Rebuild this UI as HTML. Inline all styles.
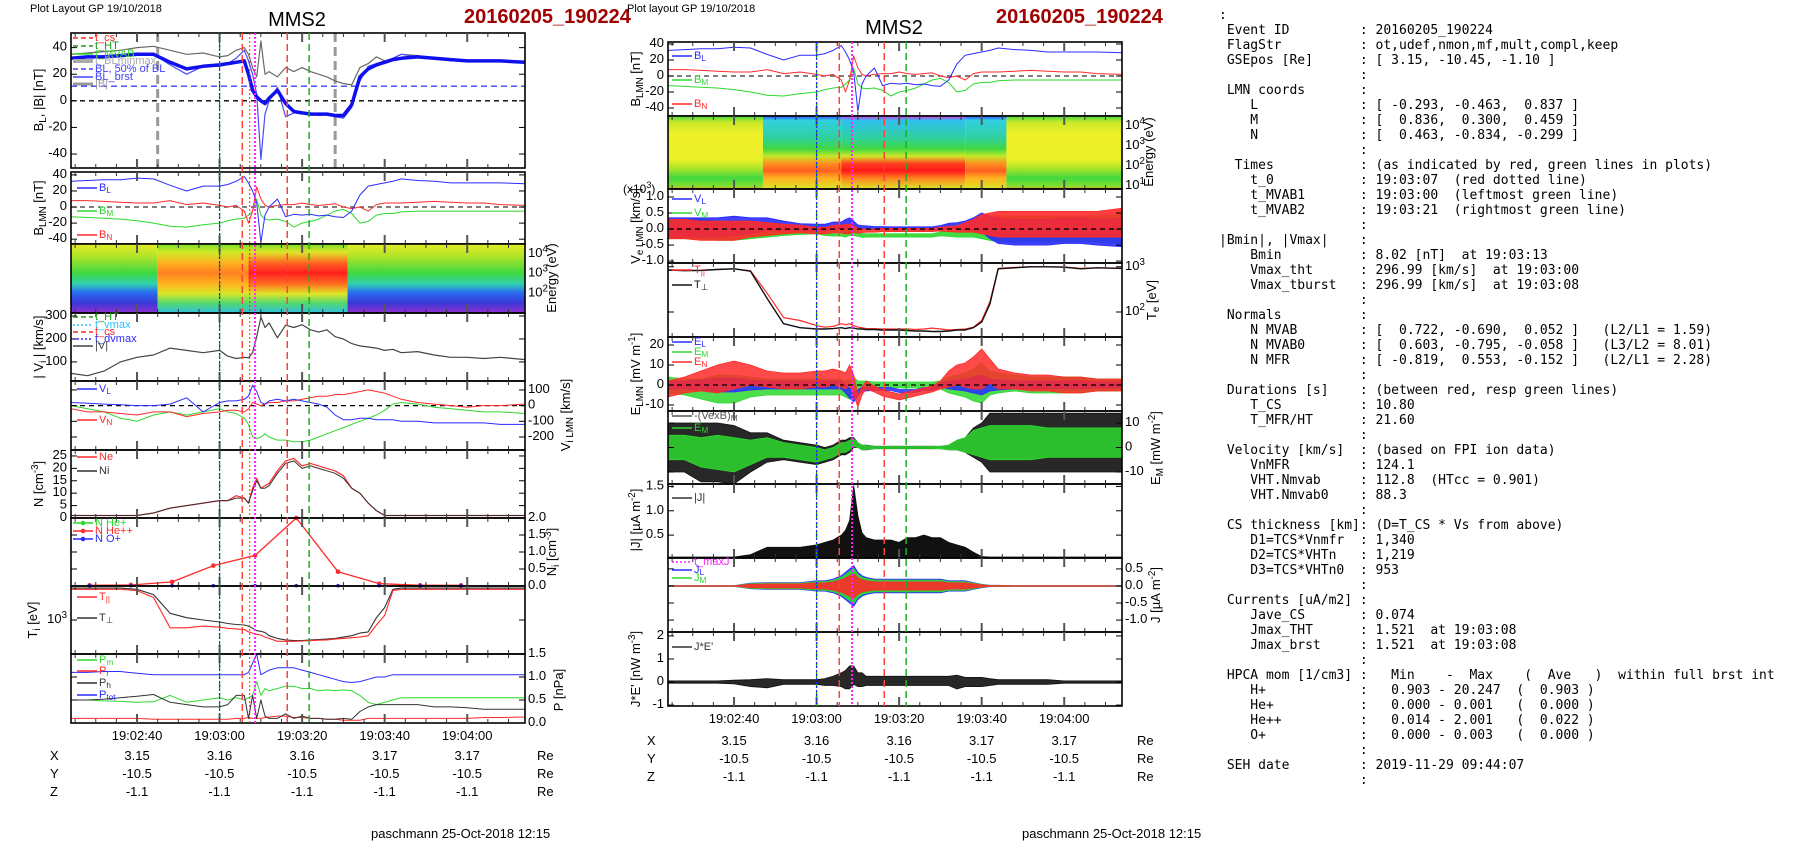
<!DOCTYPE html>
<html><head><meta charset="utf-8">
<style>
html,body{margin:0;padding:0;background:#fff;}
#wrap{position:relative;width:1804px;height:841px;overflow:hidden;background:#fff;}
svg{position:absolute;left:0;top:0;}
#info{position:absolute;left:1219px;top:8px;margin:0;font-family:"DejaVu Sans Mono","Liberation Mono",monospace;font-size:13px;line-height:15px;color:#000;white-space:pre;}
</style></head>
<body>
<div id="wrap">
<svg id="fig" width="1804" height="841" viewBox="0 0 1804 841" font-family="Liberation Sans, Arial, sans-serif"></svg>
<pre id="info"></pre>
</div>
<script>
// ---------- time base (seconds after 19:02:24) ----------
const tA=[0,4,8,12,16,20,24,28,32,36,38,40,42,43,44,45,46,47,48,50,52,54,56,58,60,62,64,66,68,70,72,74,76,78,80,84,88,92,96,100,104,110];
const tickLabels=["19:02:40","19:03:00","19:03:20","19:03:40","19:04:00"];
const tickTimes=[16,36,56,76,96];
const posX=["3.15","3.16","3.16","3.17","3.17"];
const posY=["-10.5","-10.5","-10.5","-10.5","-10.5"];
const posZ=["-1.1","-1.1","-1.1","-1.1","-1.1"];
// event markers (s)
const tGreen1=36, tGreen2=57.7, tRed1=41.5, tRed2=52.4, tRedDot=43.3, tMag=44.6, tGray1=21, tGray2=64;
// ---------- left column data ----------
const bLsmooth=[32,33,33,34,35,35,29,24,26,27,28,29,30,20,8,3,0,-2,2,8,-2,-8,-9,-10,-10,-10,-11,-11,-3,18,24,27,29,31,32,33,32,31,30,30,30,29];
const bMag=[35,36,37,38,40,41,38,35,36,33,34,38,40,35,25,18,45,20,22,18,25,22,25,22,20,18,15,13,12,25,28,33,30,32,35,34,32,31,30,30,30,29];
const bLbrst=[32,33,34,34,36,35,27,20,26,26,28,32,38,30,20,5,-44,-10,0,10,-12,-9,-10,-9,-11,-10,-12,-13,-5,15,26,28,30,32,35,33,32,30,30,30,30,29];
const bM=[-12,-13,-14,-15,-17,-20,-24,-25,-22,-20,-17,-15,-14,-10,-5,10,-10,-15,-16,-15,-18,-25,-20,-18,-15,-10,-5,-3,-8,-20,-18,-10,-8,-8,-6,-5,-5,-5,-5,-5,-5,-5];
const bN=[8,8,7,6,5,5,8,3,5,2,0,2,-5,-20,-5,25,10,2,0,2,3,3,5,3,2,3,4,0,-2,0,-5,3,5,5,5,6,7,6,5,5,3,2];
const viMag=[50,40,60,100,120,130,160,150,140,150,125,115,120,118,140,210,295,250,270,205,260,250,262,240,230,240,210,200,180,170,165,160,150,155,140,145,130,120,120,115,120,110];
const viL=[20,15,10,5,0,0,10,50,-40,20,30,30,40,60,130,90,20,10,30,40,30,40,30,20,10,-10,-60,-90,-90,-80,-80,-90,-90,-90,-100,-100,-110,-110,-110,-110,-120,-120];
const viM=[0,-20,-40,-80,-100,-60,-40,-60,-40,-20,-40,-50,-80,-120,-200,-210,-200,-180,-200,-220,-220,-230,-230,-220,-200,-180,-160,-140,-120,-100,-80,-60,-30,10,20,10,-10,-20,-30,-40,-40,-50];
const viN=[-20,-40,-40,-50,-60,-40,-40,-70,-50,-40,-30,-30,-40,-20,20,10,0,10,20,20,30,30,40,50,60,60,70,70,80,90,100,90,80,60,40,20,10,0,-10,0,0,10];
const nE=[1,1,1,1,1,2,4,5,6,7,7,9,8,6,12,16,12,13,14,19,23,24,21,22,21,20,19,17,12,10,6,3,1,1,1,1,1,1,1,1,1,1];
const nI=[1,1,1,1,1,2,4,5,6,7,7,8,8,6,11,15,12,12,13,18,22,23,20,21,20,19,18,16,12,10,6,3,1,1,1,1,1,1,1,1,1,1];
const hT=[4.5,14.5,24.5,34.5,44.6,54.6,64.7,74.7,84.6,94.5];
const heNN=[0.02,0.03,0.12,0.6,0.9,2.0,0.42,0.07,0.02,0.02];
const oNN=[0.01,0.01,0.01,0.01,0.01,0.01,0.01,0.01,0.01,0.01];
const tiPerp=[1950,1950,1950,1950,1900,1700,1150,1050,1000,960,930,910,900,880,840,800,790,770,720,680,660,650,650,660,665,670,680,700,720,760,780,1050,1300,1900,1950,1950,1950,1950,1950,1950,1950,1950];
const tiPar=[1900,1900,1900,1900,1850,1600,850,850,880,860,840,830,820,780,760,740,730,700,680,640,640,640,645,650,655,660,670,680,690,700,720,900,1100,1850,1900,1900,1900,1900,1900,1900,1900,1900];
const pTot=[1.1,1.1,1.12,1.12,1.08,1.05,1.05,1.05,1.05,1.05,1.05,1.05,1.05,1.1,1.3,1.5,1.05,1.1,1.15,1.2,1.2,1.2,1.15,1.1,1.05,1.0,0.95,0.9,0.88,0.9,0.95,1.0,1.0,1.05,1.05,1.05,1.05,1.05,1.05,1.05,1.05,1.05];
const pMag=[0.5,0.5,0.48,0.47,0.45,0.46,0.6,0.45,0.5,0.55,0.5,0.55,0.5,0.55,0.6,0.9,0.6,0.75,0.7,0.75,0.8,0.8,0.75,0.75,0.7,0.72,0.7,0.72,0.7,0.6,0.45,0.4,0.45,0.5,0.55,0.55,0.55,0.55,0.55,0.55,0.55,0.55];
const pTh=[0.5,0.5,0.52,0.55,0.58,0.62,0.45,0.4,0.35,0.35,0.4,0.6,0.6,0.1,0.6,0.1,0.5,0.15,0.1,0.1,0.2,0.1,0.15,0.1,0.1,0.08,0.08,0.1,0.08,0.25,0.35,0.4,0.4,0.4,0.4,0.4,0.35,0.35,0.33,0.3,0.3,0.3];
const pRam=[0.1,0.1,0.1,0.1,0.1,0.08,0.08,0.08,0.08,0.08,0.08,0.1,0.1,0.12,0.1,0.1,0.1,0.12,0.13,0.15,0.15,0.12,0.12,0.1,0.1,0.08,0.08,0.06,0.06,0.06,0.1,0.1,0.1,0.1,0.1,0.1,0.1,0.1,0.1,0.12,0.12,0.13];
// ---------- middle column data ----------
const veAmp=[0.3,0.3,0.3,0.3,0.3,0.25,0.2,0.15,0.12,0.1,0.1,0.12,0.12,0.15,0.15,0.1,0.08,0.06,0.05,0.05,0.05,0.05,0.05,0.05,0.05,0.05,0.05,0.06,0.08,0.1,0.15,0.2,0.3,0.35,0.4,0.4,0.4,0.4,0.4,0.4,0.4,0.45];
const veL=[0.05,0.05,0.05,0.05,0.1,0.1,0.15,0.1,0.05,0.05,0.05,0.1,0.1,0.15,0.2,0.15,0.05,0.05,0.05,0.03,0.03,0.02,0.02,0.02,0.02,0.02,0.02,0.05,0.1,0.1,0.1,0.15,0.2,0.05,-0.05,-0.1,-0.1,-0.1,-0.05,-0.05,-0.1,-0.1];
const veM=[0,0,0,-0.05,-0.05,-0.05,-0.05,-0.05,-0.05,-0.05,-0.1,-0.1,-0.1,-0.1,-0.05,-0.1,-0.15,-0.2,-0.2,-0.2,-0.2,-0.2,-0.2,-0.2,-0.2,-0.2,-0.2,-0.15,-0.15,-0.15,-0.1,-0.05,0,0,0,0,0,0,0,0,0,0];
const veN=[0,0,-0.05,-0.05,-0.05,0,0,0,0,-0.05,-0.05,0,0,0,0,0,-0.05,-0.05,-0.05,-0.05,-0.03,-0.03,-0.03,-0.03,-0.03,-0.03,-0.03,0,0,0,0.05,0.1,0.15,0.15,0.15,0.15,0.15,0.15,0.15,0.15,0.15,0.2];
const teN=[850,820,830,870,900,800,200,55,45,42,42,43,45,43,45,44,42,42,41,41,40,40,40,39,38,38,37,37,38,40,40,45,60,150,900,950,1000,1000,980,900,950,920];
const tePar=[850,830,840,880,900,820,260,75,65,50,46,48,55,52,55,50,46,45,43,43,42,42,42,42,41,42,44,42,40,41,42,46,65,170,920,970,1010,1000,990,920,950,930];
const eN=[-2,0,2,3,5,5,3,2,2,3,3,4,3,2,5,0,-8,-3,0,-2,-4,-5,-6,-5,-4,-3,-2,0,3,5,5,6,8,7,3,2,1,1,0,0,0,0];
const eAmp=[4,4,5,7,7,5,4,4,4,4,4,4,4,4,5,5,3,2,2,1.5,1.5,1.5,1.5,1.5,1.5,1.5,1.5,2,4,5,6,8,10,6,5,4,4,4,4,4,3,3];
const eLc=[0,0,0,0,0,0,0,0,0,0,0,0,0,-2,-4,-6,-4,-2,-2,-2,-2,-2,-3,-3,-3,-2,-2,0,0,0,0,0,0,0,0,0,0,0,0,0,0,0];
const eMc=[0,-1,-2,-2,-2,-1,-1,-1,-1,-1,-1,-1,-1,-2,-2,-1,-1,0,0,0,0,0,0,0,0,0,0,0,0,0,0,0,1,1,1,1,0,0,0,0,0,0];
const vxbC=[0,0,-2,-2,-3,-2,0,-1,-2,-3,-3,-2,0,0,1,2,1,0,0,0,0,0,0,0,0,0,0,0,0,1,1,2,2,2,2,2,2,2,2,2,2,2];
const vxbAmp=[10,10,12,12,12,8,6,4,4,4,3,3,3,3,3,2,1,1,1,0.5,0.5,0.5,0.5,0.5,0.5,0.5,0.5,0.5,1,2,3,6,8,12,12,12,12,12,12,12,12,12];
const emAmp=[5,5,6,7,7,5,4,3,3,3,2,2,2,2,2,1.5,1,1,0.8,0.4,0.4,0.4,0.4,0.4,0.4,0.4,0.4,0.5,1,2,3,5,6,7,7,7,7,6,6,6,6,6];
const jMag=[0.05,0.05,0.05,0.05,0.05,0.1,0.25,0.25,0.25,0.3,0.35,0.4,0.5,0.6,0.8,1.52,0.9,0.55,0.45,0.4,0.4,0.4,0.35,0.45,0.45,0.5,0.45,0.45,0.35,0.3,0.25,0.15,0.06,0.05,0.05,0.05,0.05,0.05,0.05,0.05,0.05,0.05];
const jAmp=[0.01,0.01,0.01,0.01,0.01,0.08,0.1,0.1,0.1,0.15,0.15,0.2,0.3,0.4,0.5,0.6,0.4,0.3,0.25,0.2,0.2,0.2,0.2,0.2,0.2,0.2,0.2,0.2,0.15,0.15,0.15,0.1,0.05,0.02,0.02,0.01,0.01,0.01,0.01,0.01,0.01,0.01];
const jeAmp=[0.05,0.05,0.05,0.05,0.08,0.15,0.2,0.1,0.1,0.1,0.15,0.2,0.3,0.4,0.5,0.4,0.3,0.3,0.2,0.2,0.2,0.2,0.2,0.2,0.2,0.2,0.2,0.2,0.2,0.3,0.2,0.2,0.2,0.15,0.1,0.1,0.1,0.1,0.05,0.05,0.05,0.05];
const jeC=[0,0,0,0,0,-0.05,-0.05,0,0,0,0,0.05,0.1,0.1,0.2,0.3,0.1,0.1,0.05,0.05,0.05,0.05,0.05,0.05,0.05,0.05,0.05,0.05,0.05,0,0,0,0,0,0,0,0,0,0,0,0,0];

// ---------- drawing helpers ----------
const NS='http://www.w3.org/2000/svg';
const svg=document.getElementById('fig');
const defs=document.createElementNS(NS,'defs');
svg.appendChild(defs);
const W=454, SPAN=110;
const BLUE='#2b2bff', GREEN='#2ed82e', RED='#ff2a2a', GRAY='#808080';
function mk(tag,parent){const e=document.createElementNS(NS,tag);(parent||svg).appendChild(e);return e;}
function setA(e,o){for(const k in o)e.setAttribute(k,o[k]);return e;}
function panel(x0,top,bot,vmin,vmax,log){
  const p={x0,top,bot,vmin,vmax,log};
  p.x=t=>x0+t*W/SPAN;
  p.y=v=>{let a=log?Math.log10(v):v,lo=log?Math.log10(vmin):vmin,hi=log?Math.log10(vmax):vmax;let y=bot-(a-lo)/(hi-lo)*(bot-top);return Math.max(top,Math.min(bot,y));};
  return p;
}
function line(p,times,vals,color,w,dash,name){
  const e=mk('polyline');
  
  
  setA(e,{points:times.map((t,i)=>p.x(t).toFixed(1)+','+p.y(vals[i]).toFixed(1)).join(' '),fill:'none',stroke:color,'stroke-width':w,'stroke-linejoin':'round'});
  if(dash)e.setAttribute('stroke-dasharray',dash);
  return e;
}
function band(p,times,c,amp,color,op,name){
  const up=times.map((t,i)=>p.x(t).toFixed(1)+','+p.y(c[i]+amp[i]).toFixed(1));
  const dn=times.map((t,i)=>p.x(t).toFixed(1)+','+p.y(c[i]-amp[i]).toFixed(1)).reverse();
  const e=mk('polygon');
  
  
  setA(e,{points:up.concat(dn).join(' '),fill:color,'fill-opacity':op,stroke:color,'stroke-width':0.8});
  return e;
}
function bandLo(p,times,lo,hi,color,name){
  const up=times.map((t,i)=>p.x(t).toFixed(1)+','+p.y(hi[i]).toFixed(1));
  const dn=times.map((t,i)=>p.x(t).toFixed(1)+','+p.y(lo).toFixed(1)).reverse();
  const e=mk('polygon');
  
  
  setA(e,{points:up.concat(dn).join(' '),fill:color,stroke:color,'stroke-width':0.8});
}
function txt(x,y,parts,o){
  o=o||{};
  const e=mk('text');
  
  
  setA(e,{x:x,y:y,'font-size':o.size||13,fill:o.color||'#000','text-anchor':o.anchor||'start','dominant-baseline':'middle'});
  if(o.weight)e.setAttribute('font-weight',o.weight);
  if(o.rot)e.setAttribute('transform','rotate('+o.rot+' '+x+' '+y+')');
  if(typeof parts==='string')parts=[[parts]];
  parts.forEach(pt=>{const s=mk('tspan',e);s.textContent=pt[0];
    if(pt[1]==='sub'){s.setAttribute('baseline-shift','-30%');s.setAttribute('font-size',(o.size||13)*0.75);}
    if(pt[1]==='sup'){s.setAttribute('baseline-shift','45%');s.setAttribute('font-size',(o.size||13)*0.75);}});
  return e;
}
function frame(p,name){
  const r=mk('rect');
  
  
  setA(r,{x:p.x0,y:p.top,width:W,height:p.bot-p.top,fill:'none',stroke:'#000','stroke-width':1.6});
  for(let t=1;t<SPAN;t+=5){
    const major=tickTimes.indexOf(t)>=0;const L=major?9:4;
    const a=mk('line');
    setA(a,{x1:p.x(t),x2:p.x(t),y1:p.top,y2:p.top+L,stroke:major?'#555':'#333','stroke-width':major?2:1});
    const b=mk('line');
    setA(b,{x1:p.x(t),x2:p.x(t),y1:p.bot-L,y2:p.bot,stroke:major?'#555':'#333','stroke-width':major?2:1});
  }
}
function yticks(p,vals,labels,side){
  vals.forEach((v,i)=>{
    const y=p.y(v);
    const a=mk('line');
    setA(a,{x1:p.x0,x2:p.x0+6,y1:y,y2:y,stroke:'#000'});
    const b=mk('line');
    setA(b,{x1:p.x0+W-6,x2:p.x0+W,y1:y,y2:y,stroke:'#000'});
    if(labels&&labels[i]!=null){
      if(side==='r')txt(p.x0+W+3,y,labels[i],{name:'y-tick-label'});
      else txt(p.x0-4,y,labels[i],{anchor:'end',name:'y-tick-label'});
    }
  });
}
function vline(p,t,color,w,dash,name){
  const e=mk('line');
  
  
  setA(e,{x1:p.x(t),x2:p.x(t),y1:p.top,y2:p.bot,stroke:color,'stroke-width':w,'stroke-dasharray':dash});
}
function hline(p,v,color,dash,name){
  const e=mk('line');
  
  
  setA(e,{x1:p.x0,x2:p.x0+W,y1:p.y(v),y2:p.y(v),stroke:color,'stroke-width':1.3,'stroke-dasharray':dash});
}
function grad(id,stops){
  const g=mk('linearGradient',defs);setA(g,{id:id,x1:0,y1:0,x2:0,y2:1});
  stops.forEach(s=>{const st=mk('stop',g);setA(st,{offset:s[0],'stop-color':s[1]});});
}
function specRect(p,t0,t1,gid,name){
  const r=mk('rect');
  
  
  setA(r,{x:p.x(t0),y:p.top,width:p.x(t1)-p.x(t0),height:p.bot-p.top,fill:'url(#'+gid+')'});
}
function legend(x,y,color,dash,parts,name,w){
  const e=mk('line');
  
  
  setA(e,{x1:x,x2:x+20,y1:y,y2:y,stroke:color,'stroke-width':w||1.5});
  if(dash)e.setAttribute('stroke-dasharray',dash);
  txt(x+22,y,parts,{size:11,color:color,name:name});
}
function markers(p,top,bot,withRedDot){
  const pp={x0:p.x0,top:top,bot:bot,x:p.x,y:p.y};
  vline(pp,tGreen1,'#1a9e1a',1.3,'6,4','event-line-mvab1');
  vline(pp,tGreen1,'#2020ff',1.2,'2,2','event-line-dvmax');
  vline(pp,tRed1,'#ff4040',1.5,'7,4','event-line-cs-start');
  if(withRedDot)vline(pp,tRedDot,'#ff2020',1,'2,2','event-line-t0');
  vline(pp,tMag,'#ff20ff',2,'2,2','event-line-vmax');
  vline(pp,tRed2,'#ff4040',1.5,'7,4','event-line-cs-end');
  vline(pp,tGreen2,'#20b020',1.5,'7,4','event-line-mvab2');
}

// ---------- gradients ----------
grad('ionOut',[[0,'#e4ec28'],[0.18,'#b0e428'],[0.42,'#40d840'],[0.58,'#30d0b0'],[0.7,'#2a70f0'],[0.85,'#3838d8'],[1,'#9030d0']]);
grad('ionIn1',[[0,'#7ade28'],[0.12,'#d0e828'],[0.28,'#ffb020'],[0.42,'#ff8020'],[0.58,'#ffb420'],[0.72,'#d8e828'],[0.86,'#50d870'],[1,'#30c0e0']]);
grad('ionIn2',[[0,'#7ade28'],[0.12,'#e0e428'],[0.28,'#ff6020'],[0.42,'#ff2020'],[0.58,'#ff7020'],[0.72,'#e0e428'],[0.86,'#50d870'],[1,'#30c0e0']]);
grad('elOut',[[0,'#40d840'],[0.08,'#c8e828'],[0.25,'#f0f028'],[0.6,'#eaf028'],[0.72,'#a8e428'],[0.85,'#40d840'],[0.96,'#80e030'],[1,'#f0a020']]);
grad('elIn1',[[0,'#3050ff'],[0.06,'#30d0e0'],[0.3,'#30d0a0'],[0.45,'#40d840'],[0.55,'#c0e828'],[0.65,'#ff9020'],[0.75,'#ff6020'],[0.85,'#ffb020'],[1,'#d8e828']]);
grad('elIn2',[[0,'#e030e0'],[0.06,'#30c0f0'],[0.3,'#30d0a0'],[0.45,'#40d840'],[0.55,'#d0e828'],[0.65,'#ff4020'],[0.75,'#ff1818'],[0.85,'#ff8020'],[1,'#d8e828']]);

// ---------- titles ----------
txt(30,9,'Plot Layout GP 19/10/2018',{size:11,name:'layout-caption-left'});
txt(297,21,'MMS2',{size:20,anchor:'middle',name:'spacecraft-title-left'});
txt(464,18,'20160205_190224',{size:20,weight:'bold',color:'#a00000',name:'event-title-left'});
txt(627,9,'Plot layout GP 19/10/2018',{size:11,name:'layout-caption-mid'});
txt(894,29,'MMS2',{size:20,anchor:'middle',name:'spacecraft-title-mid'});
txt(996,18,'20160205_190224',{size:20,weight:'bold',color:'#a00000',name:'event-title-mid'});

// ================= LEFT COLUMN =================
const LX=71;
const L1=panel(LX,33,168,-50.5,51);
hline(L1,0,'#000','5,4','zero-line');
hline(L1,11,'#4040ff','6,4','bl-50pct-line');
vline(L1,tGray1,'#999',3,'9,5','blminmax-line-1');
vline(L1,tGray2,'#999',3,'9,5','blminmax-line-2');
line(L1,tA,bMag,'#6a6a6a',1.2,null,'b-magnitude-line');
line(L1,tA,bLbrst,'#4a4aff',1.2,null,'bl-burst-line');
line(L1,tA,bLsmooth,'#1010ee',3.5,null,'bl-smooth-line');
frame(L1,'bl-b-panel');
yticks(L1,[40,20,0,-20,-40],['40','20','0','-20','-40']);
txt(40,100,[['B'],['L','sub'],[', |B| [nT]']],{rot:-90,anchor:'middle',name:'y-axis-title-bl'});
legend(73,38,RED,'5,3','t_cs','legend-t-cs');
legend(73,46,'#1a9e1a','5,3','t_HT','legend-t-ht');
legend(73,54,GREEN,null,'t_MVAB','legend-t-mvab');
legend(73,61,'#aaa',null,'t_BLminmax','legend-t-blminmax',4);
legend(73,69,'#4040ff','5,3','BL, 50% of BL','legend-bl-50');
legend(73,77,'#4040ff',null,'BL_brst','legend-bl-brst');
legend(73,84,'#999',null,'|B|','legend-b-mag',3);

const L2=panel(LX,172,244,-46,43.6);
hline(L2,0,'#333','5,4','zero-line');
line(L2,tA,bM,GREEN,1,null,'bm-line');
line(L2,tA,bN,RED,1,null,'bn-line');
line(L2,tA,bLbrst,BLUE,1,null,'bl-line');
frame(L2,'b-lmn-panel');
yticks(L2,[40,20,0,-20,-40],['40','20','0','-20','-40']);
txt(40,208,[['B'],['LMN','sub'],[' [nT]']],{rot:-90,anchor:'middle',name:'y-axis-title-blmn'});
legend(77,188,BLUE,null,[['B'],['L','sub']],'legend-bl');
legend(77,211,GREEN,null,[['B'],['M','sub']],'legend-bm');
legend(77,235,RED,null,[['B'],['N','sub']],'legend-bn');

const L3=panel(LX,244,313,10,31623,true);
specRect(L3,0,21,'ionOut','ion-spectrogram-pre');
specRect(L3,21,43,'ionIn1','ion-spectrogram-cs1');
specRect(L3,43,67,'ionIn2','ion-spectrogram-cs2');
specRect(L3,67,110,'ionOut','ion-spectrogram-post');
frame(L3,'ion-spectrogram-panel');
[[10000,'4'],[1000,'3'],[100,'2']].forEach(a=>txt(L3.x0+W+3,L3.y(a[0]),[['10'],[a[1],'sup']],{name:'energy-tick-label'}));
txt(553,278,'Energy (eV)',{rot:-90,anchor:'middle',name:'y-axis-title-ion-energy'});

const L4=panel(LX,313,381,17,313);
line(L4,tA,viMag,'#444',1.2,null,'vi-magnitude-line');
frame(L4,'vi-magnitude-panel');
yticks(L4,[300,200,100],['300','200','100']);
txt(40,347,[['| V'],['i','sub'],[' | [km/s]']],{rot:-90,anchor:'middle',name:'y-axis-title-vi'});
legend(73,317,'#1a9e1a','5,3','t_HT','legend-vi-t-ht');
legend(73,325,'#30c0ff','2,2','t_vmax','legend-t-vmax');
legend(73,332,RED,'5,3','t_cs','legend-vi-t-cs');
legend(73,339,BLUE,'2,2','t_dvmax','legend-t-dvmax');
legend(73,346,'#444',null,'|V|','legend-vi-mag');

const L5=panel(LX,381,450,-283,157);
hline(L5,0,'#000','5,4','zero-line');
line(L5,tA,viM,GREEN,1,null,'vm-line');
line(L5,tA,viN,RED,1,null,'vn-line');
line(L5,tA,viL,BLUE,1,null,'vl-line');
frame(L5,'vi-lmn-panel');
yticks(L5,[100,0,-100,-200],['100','0','-100','-200'],'r');
txt(567,415,[['V'],['i LMN','sub'],[' [km/s]']],{rot:-90,anchor:'middle',name:'y-axis-title-vilmn'});
legend(77,389,BLUE,null,[['V'],['L','sub']],'legend-vl');
legend(77,420,RED,null,[['V'],['N','sub']],'legend-vn');

const L6=panel(LX,450,518,0,27.4);
line(L6,tA,nE,RED,1.2,null,'ne-line');
line(L6,tA,nI,'#333',1,null,'ni-line');
frame(L6,'density-panel');
yticks(L6,[25,20,15,10,5,0],['25','20','15','10','5','0']);
txt(40,484,[['N [cm'],['-3','sup'],[']']],{rot:-90,anchor:'middle',name:'y-axis-title-n'});
legend(77,457,RED,null,'Ne','legend-ne');
legend(77,471,'#333',null,'Ni','legend-ni');

const L7=panel(LX,518,586,0,2.0);
line(L7,hT,heNN,RED,1.3,null,'hepp-density-line');
hT.forEach((t,i)=>{const c=mk('circle');setA(c,{cx:L7.x(t),cy:L7.y(heNN[i]),r:2.3,fill:RED});});
hT.forEach((t,i)=>{const c=mk('circle');setA(c,{cx:L7.x(t),cy:L7.y(oNN[i]),r:1.8,fill:BLUE});});
frame(L7,'minor-ion-density-panel');
yticks(L7,[2,1.5,1,0.5,0],['2.0','1.5','1.0','0.5','0.0'],'r');
txt(553,552,[['N'],['i','sub'],[' [cm'],['-3','sup'],[']']],{rot:-90,anchor:'middle',name:'y-axis-title-ni'});
[[GREEN,'N  He+',523],[RED,'N  He++',531],[BLUE,'N  O+',539]].forEach(a=>{legend(73,a[2],a[0],null,a[1],'legend-minor-ion');const c=mk('circle');setA(c,{cx:83,cy:a[2],r:2.3,fill:a[0]});});

const L8=panel(LX,586,654,491,2037,true);
line(L8,tA,tiPerp,'#333',1.1,null,'ti-perp-line');
line(L8,tA,tiPar,RED,1.1,null,'ti-par-line');
frame(L8,'ti-panel');
yticks(L8,[1000],[[['10'],['3','sup']]]);
txt(34,620,[['T'],['i','sub'],[' [eV]']],{rot:-90,anchor:'middle',name:'y-axis-title-ti'});
legend(77,597,RED,null,[['T'],['||','sub']],'legend-ti-par');
legend(77,618,'#333',null,[['T'],['\u22a5','sub']],'legend-ti-perp');

const L9=panel(LX,654,723,0,1.5);
line(L9,tA,pRam,RED,1,null,'p-ram-line');
line(L9,tA,pMag,GREEN,1,null,'p-mag-line');
line(L9,tA,pTh,'#333',1,null,'p-th-line');
line(L9,tA,pTot,BLUE,1,null,'p-total-line');
frame(L9,'pressure-panel');
yticks(L9,[1.5,1,0.5,0],['1.5','1.0','0.5','0.0'],'r');
txt(560,690,'P [nPa]',{rot:-90,anchor:'middle',name:'y-axis-title-p'});
legend(77,660,GREEN,null,[['P'],['m','sub']],'legend-pm');
legend(77,671,RED,null,[['P'],['r','sub']],'legend-pr');
legend(77,683,'#333',null,[['P'],['h','sub']],'legend-ph');
legend(77,695,BLUE,null,[['P'],['tot','sub']],'legend-ptot');
markers(L1,33,723,true);

// ================= MIDDLE COLUMN =================
const MX=668;
const M1=panel(MX,42,116,-50,42.5);
hline(M1,0,'#333','5,4','zero-line');
line(M1,tA,bM,GREEN,1,null,'bm-line');
line(M1,tA,bN,RED,1,null,'bn-line');
line(M1,tA,bLbrst,BLUE,1,null,'bl-line');
frame(M1,'b-lmn-panel-mid');
yticks(M1,[40,20,0,-20,-40],['40','20','0','-20','-40']);
txt(637,79,[['B'],['LMN','sub'],[' [nT]']],{rot:-90,anchor:'middle',name:'y-axis-title-blmn-mid'});
legend(672,56,BLUE,null,[['B'],['L','sub']],'legend-bl');
legend(672,80,GREEN,null,[['B'],['M','sub']],'legend-bm');
legend(672,104,RED,null,[['B'],['N','sub']],'legend-bn');

const M2=panel(MX,116,189,7,31623,true);
specRect(M2,0,23,'elOut','electron-spectrogram-pre');
specRect(M2,23,42,'elIn1','electron-spectrogram-cs1');
specRect(M2,42,72,'elIn2','electron-spectrogram-cs2');
specRect(M2,72,82,'elIn1','electron-spectrogram-cs3');
specRect(M2,82,110,'elOut','electron-spectrogram-post');
frame(M2,'electron-spectrogram-panel');
[[10000,'4'],[1000,'3'],[100,'2'],[10,'1']].forEach(a=>txt(M2.x0+W+3,M2.y(a[0]),[['10'],[a[1],'sup']],{name:'energy-tick-label'}));
txt(1150,152,'Energy (eV)',{rot:-90,anchor:'middle',name:'y-axis-title-el-energy'});

const M3=panel(MX,189,263,-1.06,1.25);
band(M3,tA,veM,veAmp,GREEN,0.9,'ve-m-band');
band(M3,tA,veL,veAmp,BLUE,0.9,'ve-l-band');
band(M3,tA,veN,veAmp,RED,0.9,'ve-n-band');
hline(M3,0,'#000','5,4','zero-line');
frame(M3,'ve-lmn-panel');
yticks(M3,[1,0.5,0,-0.5,-1],['1.0','0.5','0.0','-0.5','-1.0']);
txt(637,226,[['V'],['e LMN','sub'],[' [km/s]']],{rot:-90,anchor:'middle',name:'y-axis-title-ve'});
txt(623,190,[['(x10'],['3','sup'],[')']],{size:12,name:'ve-scale-factor'});
legend(672,199,BLUE,null,[['V'],['L','sub']],'legend-vel');
legend(672,213,GREEN,null,[['V'],['M','sub']],'legend-vem');

const M4=panel(MX,263,337,28,1212,true);
line(M4,tA,tePar,RED,1.2,null,'te-par-line');
line(M4,tA,teN,'#111',1.4,null,'te-perp-line');
frame(M4,'te-panel');
yticks(M4,[1000,100],[[['10'],['3','sup']],[['10'],['2','sup']]],'r');
txt(1153,300,[['T'],['e','sub'],[' [eV]']],{rot:-90,anchor:'middle',name:'y-axis-title-te'});
legend(672,270,RED,null,[['T'],['||','sub']],'legend-te-par');
legend(672,285,'#111',null,[['T'],['\u22a5','sub']],'legend-te-perp');

const M5=panel(MX,337,411,-13,24);
band(M5,tA,eMc,eAmp,GREEN,0.85,'e-m-band');
band(M5,tA,eLc,eAmp.map(a=>a*0.5),BLUE,0.85,'e-l-band');
band(M5,tA,eN,eAmp,RED,0.85,'e-n-band');
hline(M5,0,'#000','5,4','zero-line');
frame(M5,'e-lmn-panel');
yticks(M5,[20,10,0,-10],['20','10','0','-10']);
txt(637,374,[['E'],['LMN','sub'],['  [mV m'],['-1','sup'],[']']],{rot:-90,anchor:'middle',name:'y-axis-title-e'});
legend(672,342,BLUE,null,[['E'],['L','sub']],'legend-el');
legend(672,352,GREEN,null,[['E'],['M','sub']],'legend-em');
legend(672,362,RED,null,[['E'],['N','sub']],'legend-en');

const M6=panel(MX,411,484,-14.9,14.9);
band(M6,tA,vxbC,vxbAmp,'#111',0.9,'vexb-m-band');
band(M6,tA,vxbC,emAmp,GREEN,0.85,'em-band');
frame(M6,'em-panel');
yticks(M6,[10,0,-10],['10','0','-10'],'r');
txt(1157,448,[['E'],['M','sub'],[' [mW m'],['-2','sup'],[']']],{rot:-90,anchor:'middle',name:'y-axis-title-em'});
legend(672,416,'#555',null,[['-(VexB)'],['M','sub']],'legend-vexb');
legend(672,428,GREEN,null,[['E'],['M','sub']],'legend-em2');

const M7=panel(MX,484,558,0.03,1.55);
bandLo(M7,tA,0.03,jMag,'#111','j-magnitude-band');
frame(M7,'j-magnitude-panel');
yticks(M7,[1.5,1,0.5],['1.5','1.0','0.5']);
txt(637,520,[['|J| [\u00b5A m'],['-2','sup'],[']']],{rot:-90,anchor:'middle',name:'y-axis-title-jmag'});
legend(672,498,'#333',null,'|J|','legend-jmag');

const M8=panel(MX,558,632,-1.35,0.82);
const zeros=tA.map(()=>0);
band(M8,tA,zeros,jAmp,BLUE,0.9,'jl-band');
band(M8,tA,zeros,jAmp.map(a=>a*0.85),GREEN,0.9,'jm-band');
band(M8,tA,zeros,jAmp.map(a=>a*0.6),RED,0.9,'jn-band');
frame(M8,'j-lmn-panel');
yticks(M8,[0.5,0,-0.5,-1],['0.5','0.0','-0.5','-1.0'],'r');
txt(1157,595,[['J [\u00b5A m'],['-2','sup'],[']']],{rot:-90,anchor:'middle',name:'y-axis-title-j'});
legend(672,562,'#ff20ff','2,2','t_maxJ','legend-t-maxj');
legend(672,570,BLUE,null,[['J'],['L','sub']],'legend-jl');
legend(672,578,GREEN,null,[['J'],['M','sub']],'legend-jm');

const M9=panel(MX,632,706,-1.04,2.17);
band(M9,tA,jeC,jeAmp,'#111',0.9,'je-band');
frame(M9,'je-panel');
yticks(M9,[2,1,0,-1],['2','1','0','-1']);
txt(637,669,[['J*E\' [nW m'],['-3','sup'],[']']],{rot:-90,anchor:'middle',name:'y-axis-title-je'});
legend(672,647,'#333',null,"J*E'",'legend-je');
markers(M1,42,706,false);

// ---------- time / position axes ----------
function timeAxis(p,yT,yX,xLab,xRe){
  tickTimes.forEach((t,i)=>{
    txt(p.x(t),yT,tickLabels[i],{anchor:'middle',name:'x-tick-label'});
    txt(p.x(t),yX,posX[i],{anchor:'middle',name:'pos-x-value'});
    txt(p.x(t),yX+18,posY[i],{anchor:'middle',name:'pos-y-value'});
    txt(p.x(t),yX+36,posZ[i],{anchor:'middle',name:'pos-z-value'});
  });
  [['X',0],['Y',18],['Z',36]].forEach(a=>{txt(xLab,yX+a[1],a[0],{name:'pos-row-label'});txt(xRe,yX+a[1],'Re',{name:'pos-unit'});});
}
timeAxis(L9,737,757,50,537);
timeAxis(M9,720,742,647,1137);
txt(371,835,'paschmann 25-Oct-2018 12:15',{size:13,name:'author-stamp-left'});
txt(1022,835,'paschmann 25-Oct-2018 12:15',{size:13,name:'author-stamp-mid'});

// ---------- info table ----------
const infoRows=[
['',':',''],
[' Event ID','','20160205_190224'],
[' FlagStr','','ot,udef,nmon,mf,mult,compl,keep'],
[' GSEpos [Re]','','[ 3.15, -10.45, -1.10 ]'],
['','',''],
[' LMN coords','',''],
['    L','','[ -0.293, -0.463,  0.837 ]'],
['    M','','[  0.836,  0.300,  0.459 ]'],
['    N','','[  0.463, -0.834, -0.299 ]'],
['','',''],
['  Times','','(as indicated by red, green lines in plots)'],
['    t_0','','19:03:07  (red dotted line)'],
['    t_MVAB1','','19:03:00  (leftmost green line)'],
['    t_MVAB2','','19:03:21  (rightmost green line)'],
['','',''],
['|Bmin|, |Vmax|','',''],
['    Bmin','','8.02 [nT]  at 19:03:13'],
['    Vmax_tht','','296.99 [km/s]  at 19:03:00'],
['    Vmax_tburst','','296.99 [km/s]  at 19:03:08'],
['','',''],
[' Normals','',''],
['    N MVAB','','[  0.722, -0.690,  0.052 ]   (L2/L1 = 1.59)'],
['    N MVAB0','','[  0.603, -0.795, -0.058 ]   (L3/L2 = 8.01)'],
['    N MFR','','[ -0.819,  0.553, -0.152 ]   (L2/L1 = 2.28)'],
['','',''],
[' Durations [s]','','(between red, resp green lines)'],
['    T_CS','','10.80'],
['    T_MFR/HT','','21.60'],
['','',''],
[' Velocity [km/s]','','(based on FPI ion data)'],
['    VnMFR','','124.1'],
['    VHT.Nmvab','','112.8  (HTcc = 0.901)'],
['    VHT.Nmvab0','','88.3'],
['','',''],
[' CS thickness [km]','','(D=T_CS * Vs from above)'],
['    D1=TCS*Vnmfr','','1,340'],
['    D2=TCS*VHTn','','1,219'],
['    D3=TCS*VHTn0','','953'],
['','',''],
[' Currents [uA/m2]','',''],
['    Jave_CS','','0.074'],
['    Jmax_THT','','1.521  at 19:03:08'],
['    Jmax_brst','','1.521  at 19:03:08'],
['','',''],
[' HPCA mom [1/cm3]','','  Min    -  Max    (  Ave   )  within full brst int'],
['    H+','','  0.903 - 20.247  (  0.903 )'],
['    He+','','  0.000 - 0.001   (  0.000 )'],
['    He++','','  0.014 - 2.001   (  0.022 )'],
['    O+','','  0.000 - 0.003   (  0.000 )'],
['','',''],
[' SEH date','','2019-11-29 09:44:07'],
['','','']
];
document.getElementById('info').textContent=infoRows.map((r,i)=>i===0?':':(r[0].padEnd(18)+':'+(r[2]?' '+r[2]:''))).join('\n');
</script>
</body></html>
